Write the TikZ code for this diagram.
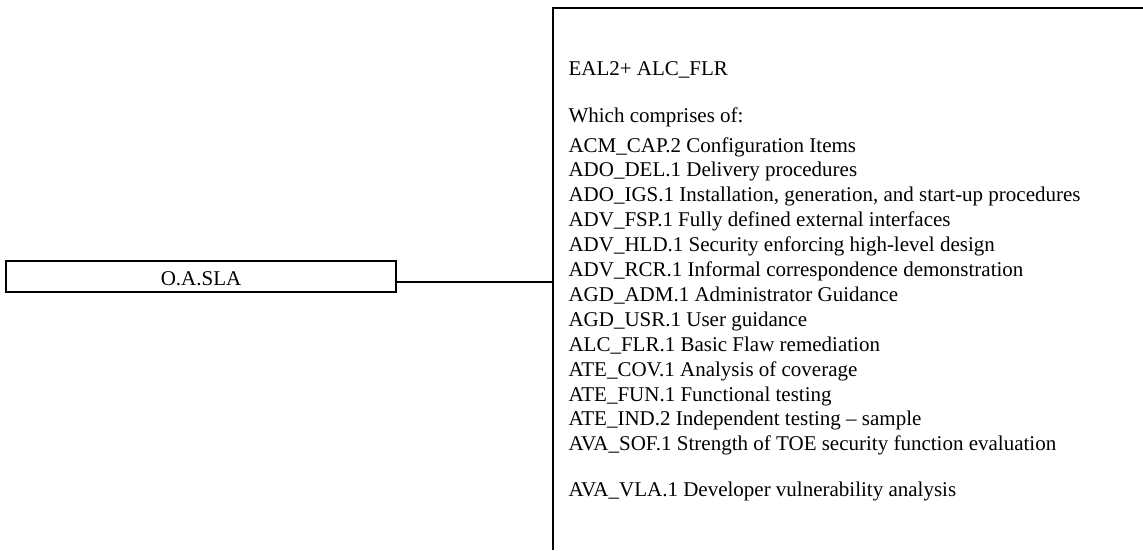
\documentclass[tikz,border=0pt]{standalone}
\usepackage{fontspec}
\setmainfont{Liberation Serif}
\begin{document}
\begin{tikzpicture}[x=1pt,y=-1pt,
  line width=1.1pt,
  every node/.style={inner sep=0pt, font=\fontsize{21}{25}\selectfont},
  textline/.style={anchor=base west},
  objbox/.style={draw, minimum width=390pt, minimum height=31pt, text height=18pt, text depth=0pt}]
\useasboundingbox (0,0) rectangle (1143,550);
% objective box
\node[objbox] (sla) at (201,276.5) {O.A.SLA};
% requirement box (cut off at the right and bottom)
\coordinate (rtop) at (553,8);
\coordinate (rbottom) at (553,550);
\coordinate (rright) at (1143,8);
\draw (rbottom) -- (rtop) -- (rright);
% connector
\coordinate (cstart) at ([yshift=-5.5pt]sla.east);
\draw (cstart) -- (cstart -| rtop);
% texts
\node[textline] (eal) at (568,75) {EAL2+ ALC\_FLR};
\node[textline] (which) at (568,122) {Which comprises of:};
\foreach \t [count=\i from 0] in {
  ACM\_CAP.2 Configuration Items,
  ADO\_DEL.1 Delivery procedures,
  {ADO\_IGS.1 Installation, generation, and start-up procedures},
  ADV\_FSP.1 Fully defined external interfaces,
  ADV\_HLD.1 Security enforcing high-level design,
  ADV\_RCR.1 Informal correspondence demonstration,
  AGD\_ADM.1 Administrator Guidance,
  AGD\_USR.1 User guidance,
  ALC\_FLR.1 Basic Flaw remediation,
  ATE\_COV.1 Analysis of coverage,
  ATE\_FUN.1 Functional testing,
  ATE\_IND.2 Independent testing – sample,
  AVA\_SOF.1 Strength of TOE security function evaluation}
  \node[textline] (item\i) at (568,{152+24.9*\i}) {\t};
\node[textline] (vla) at (568,496.5) {AVA\_VLA.1 Developer vulnerability analysis};
\end{tikzpicture}
\end{document}
